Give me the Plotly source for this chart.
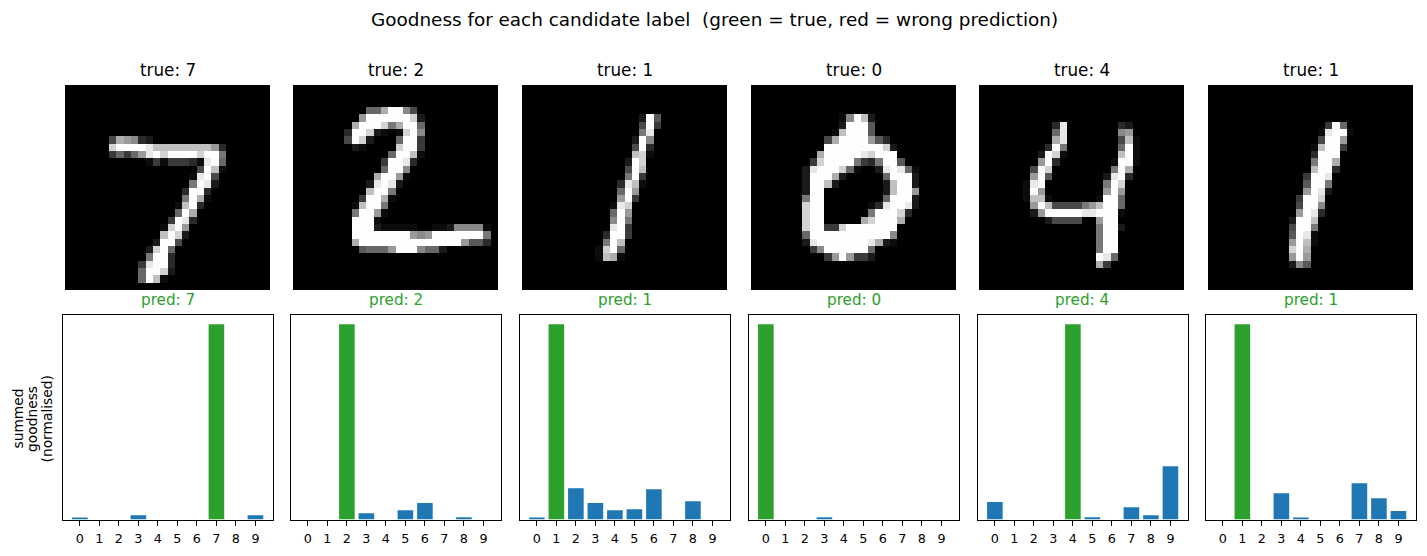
import numpy as np
import plotly.graph_objects as go

W, H = 1427, 556
CATS = list(range(10))
TRUE_LABELS = [7, 2, 1, 0, 4, 1]
PRED_LABELS = [7, 2, 1, 0, 4, 1]
YLABEL_LINES = ["summed", "goodness", "(normalised)"]

GOOD_A = [.007, 0, 0, .022, 0, 0, 0, 1, 0, .022]
GOOD_B = [0, 0, 1, .032, 0, .048, .084, 0, .012, 0]
GOOD_C = [.007, 1, .16, .084, .048, .053, .155, 0, .094, 0]
GOOD_D = [1, 0, 0, .012, 0, 0, 0, 0, 0, 0]
GOOD_E = [.089, 0, 0, 0, 1, .012, 0, .063, .022, .273]
GOOD_F = [0, 1, 0, .135, .007, 0, 0, .186, .109, .043]

# row -> "column:hexgreys ..." (each hex digit is one 28x28 pixel's grey level)
IMG_7 = {7: "6:5ba932", 8: "6:dffffe 12:cccccccc 20:a3", 9: "6:4747aefdffffdff8",
         10: "11:14144431ef7", 11: "18:5fc1", 12: "17:1ef5", 13: "17:8fe2",
         14: "16:3ff3", 15: "16:8fb1", 16: "15:1cf3", 17: "15:7fb",
         18: "14:4fe3", 19: "13:1dfa", 20: "13:cfd2", 21: "12:2ff5",
         22: "11:2df7", 23: "11:8ff3", 24: "10:4eff3", 25: "10:7ffd2", 26: "10:7fc1"}
IMG_2 = {3: "10:77bff95", 4: "9:affffffd2", 5: "8:bfffd8bff7", 6: "7:3ffd2101df9",
         7: "7:5fd2 14:7ff4", 8: "8:21 14:dff4", 9: "13:7ffc1", 10: "12:4ffe3", 11: "12:7ff9",
         12: "11:bffa1", 13: "10:2efe2", 14: "10:cff8", 15: "9:4ffb1",
         16: "8:1cff8", 17: "8:8ffa1", 18: "8:fff1",
         19: "8:fff21111 16:1 19:11 21:2 22:9999 26:1",
         20: "8:ffffffff 16:a9a 19:fffffff 26:8",
         21: "8:bfffffff 16:ffffffff 23:a663", 22: "9:6777afff9772"}
IMG_1A = {4: "16:2f6", 5: "16:5f4", 6: "16:8e", 7: "15:2f9", 8: "15:5f3",
          9: "15:cd1", 10: "14:2fd", 11: "14:5fc", 12: "14:8f4", 13: "13:3ec1",
          14: "13:7fa", 15: "13:af4", 16: "12:1ed", 17: "12:7fa", 18: "12:9f8",
          19: "12:ef4", 20: "11:3ff4", 21: "11:8fc", 22: "10:1df7", 23: "10:1cb1"}
IMG_0 = {4: "12:19fc2", 5: "12:2fff6", 6: "11:1cfff6", 7: "10:5bffffa63",
         8: "10:ffffffffd2", 9: "9:bfffffedfff", 10: "8:4dffff8438ff6",
         11: "7:2efffd71 17:2efe71", 12: "7:2fffb2 18:7fff2",
         13: "7:2ffc2 18:2cff2", 14: "7:2ff 18:2cffa",
         15: "7:8ff 18:7fff2", 16: "7:dff 16:13effe2",
         17: "7:dff 16:8fffd3", 18: "7:dff 15:bdfffb",
         19: "7:dff44d 13:fffffff", 20: "7:7fffffff 15:ffff 19:9",
         21: "7:2efffffff 16:eb21", 22: "8:49ffffff7", 23: "10:4afa442"}
IMG_4 = {5: "10:3e 19:32", 6: "10:7e 19:9a", 7: "10:be 19:5c1", 8: "9:3f8 19:7f1",
         9: "8:2fd1 19:cf1", 10: "8:af3 18:1ff1", 11: "7:5fd 18:8fb", 12: "7:af6 17:2ef3",
         13: "6:1ef 17:8fd", 14: "6:1fa 17:afa", 15: "6:1cc1 16:1ff7",
         16: "7:afc5555 14:8acff7", 17: "7:2afffff 14:eefff1", 18: "9:25555 16:aff",
         19: "16:8ff2", 20: "16:8ff", 21: "16:8ff", 22: "16:8ff", 23: "16:fe7", 24: "16:b4"}
IMG_1B = {5: "16:4f7", 6: "15:1eff1", 7: "15:5ffa", 8: "14:1cff4", 9: "14:3fff",
          10: "14:8ffb", 11: "14:cff3", 12: "13:4ffe", 13: "13:6ff8", 14: "13:afe2",
          15: "12:4ffd", 16: "12:5ff9", 17: "12:afe3", 18: "11:2ffc", 19: "11:5ff8",
          20: "11:6fe1", 21: "11:afc1", 22: "11:dfb", 23: "11:afa", 24: "11:296"}

BAR_VALUES = [GOOD_A, GOOD_B, GOOD_C, GOOD_D, GOOD_E, GOOD_F]
IMAGES = [IMG_7, IMG_2, IMG_1A, IMG_0, IMG_4, IMG_1B]


def raster(rows):
    a = np.zeros((28, 28))
    for r, spec in rows.items():
        for seg in spec.split():
            c, s = seg.split(":")
            for i, ch in enumerate(s):
                a[r, int(c) + i] = int(ch, 16) * 17
    return a


IMG_LEFT = [65, 293, 522, 751, 979, 1208]
BAR_LEFT = [62.5, 290.5, 519.5, 748.5, 977.5, 1205.5]
IMG_SIZE, BAR_W = 205, 210.3
IMG_TOP, BAR_TOP, BAR_H = 85, 314.5, 205
BLUE, GREEN = "#1f77b4", "#2ca02c"
FONT = "DejaVu Sans"
YLABEL_X = [17.5, 32, 46.5]

fig = go.Figure()
layout = {}
ann = []


def fx(p):
    return p / W


def fy(p):
    return 1 - p / H


for i in range(6):
    n = 2 * i + 1
    xa, ya = f"xaxis{n}", f"yaxis{n}"
    fig.add_trace(go.Heatmap(z=raster(IMAGES[i]), x=list(range(28)), y=list(range(28)),
                             colorscale="Gray", zmin=0, zmax=255, showscale=False,
                             xaxis=f"x{n}", yaxis=f"y{n}"))
    layout[xa] = dict(domain=[fx(IMG_LEFT[i]), fx(IMG_LEFT[i] + IMG_SIZE)], range=[-.5, 27.5],
                      visible=False, anchor=f"y{n}")
    layout[ya] = dict(domain=[fy(IMG_TOP + IMG_SIZE), fy(IMG_TOP)], range=[27.5, -.5],
                      visible=False, anchor=f"x{n}")
    m = n + 1
    colors = [GREEN if c == TRUE_LABELS[i] else BLUE for c in CATS]
    fig.add_trace(go.Bar(x=CATS, y=BAR_VALUES[i], width=.8, marker=dict(color=colors, line_width=0),
                         xaxis=f"x{m}", yaxis=f"y{m}"))
    layout[f"xaxis{m}"] = dict(domain=[fx(BAR_LEFT[i]), fx(BAR_LEFT[i] + BAR_W)], range=[-.89, 9.89],
                               anchor=f"y{m}", tickmode="array", tickvals=CATS,
                               ticktext=[str(c) for c in CATS], ticks="outside", ticklen=5, tickwidth=1.1,
                               tickcolor="black", showline=True, linecolor="black", linewidth=1.1,
                               mirror=True, showgrid=False, zeroline=False, ticklabelstandoff=2,
                               tickfont=dict(family=FONT, size=12.75, color="black"))
    layout[f"yaxis{m}"] = dict(domain=[fy(BAR_TOP + BAR_H), fy(BAR_TOP)], range=[0, 1.05],
                               anchor=f"x{m}", showticklabels=False, ticks="", showline=True,
                               linecolor="black", linewidth=1.1, mirror=True, showgrid=False,
                               zeroline=False)
    cx = IMG_LEFT[i] + IMG_SIZE / 2
    ann.append(dict(text=f"true: {TRUE_LABELS[i]}", x=fx(cx), y=fy(70), font=dict(size=16.8, color="black")))
    ann.append(dict(text=f"pred: {PRED_LABELS[i]}", x=fx(cx), y=fy(300),
                    font=dict(size=15.2, color=GREEN if PRED_LABELS[i] == TRUE_LABELS[i] else "#d62728")))

ann.append(dict(text="Goodness for each candidate label  (green = true, red = wrong prediction)",
                x=fx(714), y=fy(19.5), font=dict(size=18.4, color="black")))
for line, lx in zip(YLABEL_LINES, YLABEL_X):
    ann.append(dict(text=line, x=fx(lx), y=fy(419), textangle=-90, font=dict(size=13.8, color="black")))
for a in ann:
    a.update(xref="paper", yref="paper", xanchor="center", yanchor="middle", showarrow=False)
    a["font"]["family"] = FONT

fig.update_layout(width=W, height=H, margin=dict(l=0, r=0, t=0, b=0), autosize=False,
                  paper_bgcolor="white", plot_bgcolor="white", showlegend=False,
                  annotations=ann, **layout)
fig.write_html("out.html", config={"displayModeBar": False},
               post_script="document.body.style.margin='0';document.body.style.overflow='hidden';")
